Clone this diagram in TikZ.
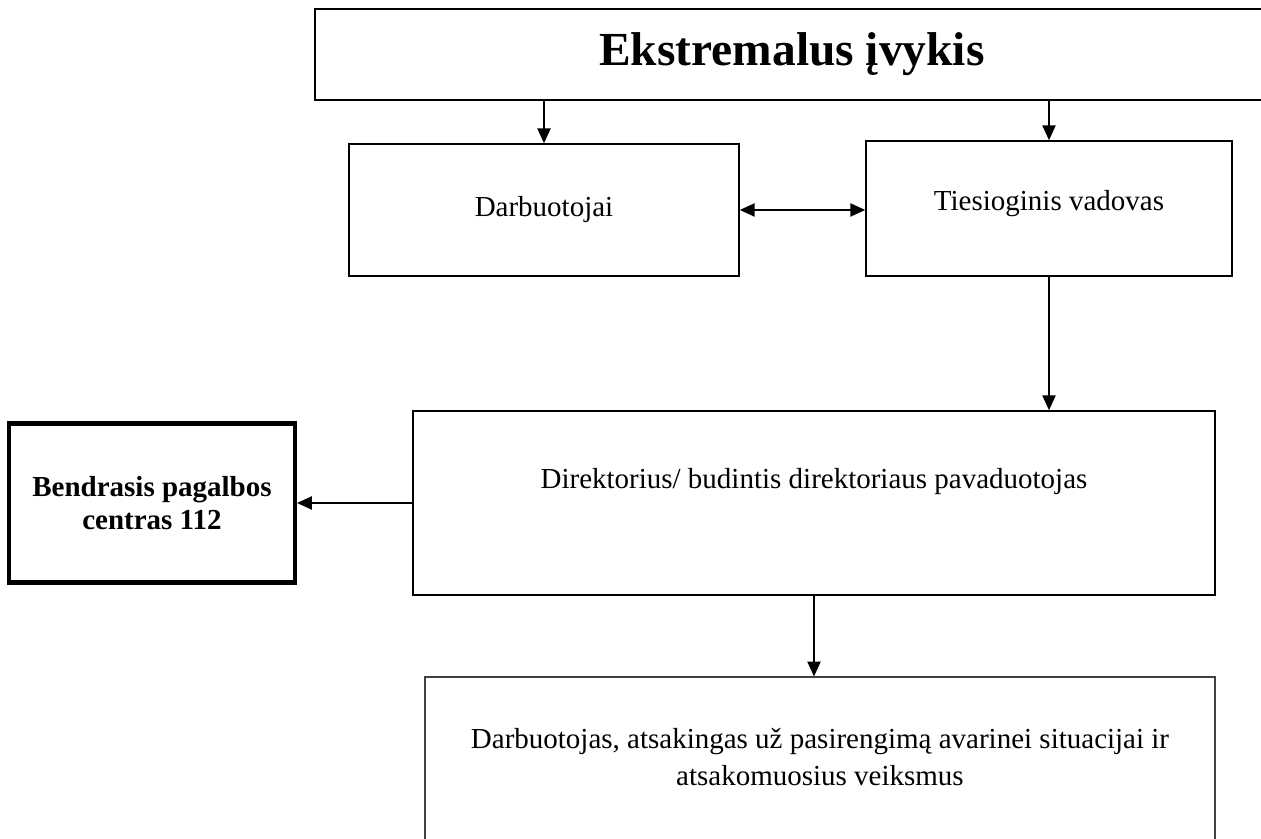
\documentclass[tikz,border=0pt]{standalone}
\usepackage{fontspec}
\setmainfont{Liberation Serif}
\usetikzlibrary{arrows.meta, positioning}

\begin{document}
\begin{tikzpicture}[box/.style={rectangle,draw,line width=0.9pt,inner sep=0pt,align=center,font=\fontsize{16.5}{20}\selectfont},
    thickbox/.style={box,line width=2.3pt,font=\fontsize{16.5}{19}\selectfont\bfseries},
    arr/.style={-{Triangle[length=8.5pt,width=7.5pt]},line width=1.1pt}]
    \useasboundingbox (0,0) rectangle (25.22,16.78);
    \clip (0,0) rectangle (25.22,16.78);
    % 顶部框
    \node[box,minimum width=19.08cm,minimum height=1.82cm,font=\fontsize{27}{32}\selectfont\bfseries] (event) at (15.84,15.69) {Ekstremalus įvykis};
    % 第二层
    \node[box,minimum width=7.8cm,minimum height=2.64cm] (staff) at (10.88,12.58) {Darbuotojai};
    \node[box,minimum width=7.32cm,minimum height=2.7cm] (boss) at (20.98,12.61) {};
    \node at ([yshift=0.1cm]boss.center) {\fontsize{16.5}{20}\selectfont Tiesioginis vadovas};
    % 第三层
    \node[box,minimum width=16.04cm,minimum height=3.68cm] (direk) at (16.28,6.72) {};
    \node at ([yshift=0.42cm]direk.center) {\fontsize{16.5}{20}\selectfont Direktorius/ budintis direktoriaus pavaduotojas};
    \node[thickbox,minimum width=5.72cm,minimum height=3.18cm] (center112) at (3.04,6.72) {Bendrasis pagalbos\\centras 112};
    % 底部框
    \node[box,line width=0.6pt,draw=black!75,minimum width=15.8cm,minimum height=3.9cm] (worker) at (16.4,1.29) {};
    \node[align=center,font=\fontsize{16.5}{21}\selectfont] at (16.4,1.64) {Darbuotojas, atsakingas už pasirengimą avarinei situacijai ir\\atsakomuosius veiksmus};
    % 箭头
    \draw[arr] (event.south -| staff.north) -- (staff.north);
    \draw[arr] (event.south -| boss.north) -- (boss.north);
    \draw[{Triangle[length=8.5pt,width=7.5pt]}-{Triangle[length=8.5pt,width=7.5pt]},line width=1.1pt] (staff.east) -- (boss.west |- staff.east);
    \draw[arr] (boss.south) -- (boss.south |- direk.north);
    \draw[arr] (direk.west) -- (center112.east |- direk.west);
    \draw[arr] (direk.south) -- (direk.south |- worker.north);
\end{tikzpicture}
\end{document}
